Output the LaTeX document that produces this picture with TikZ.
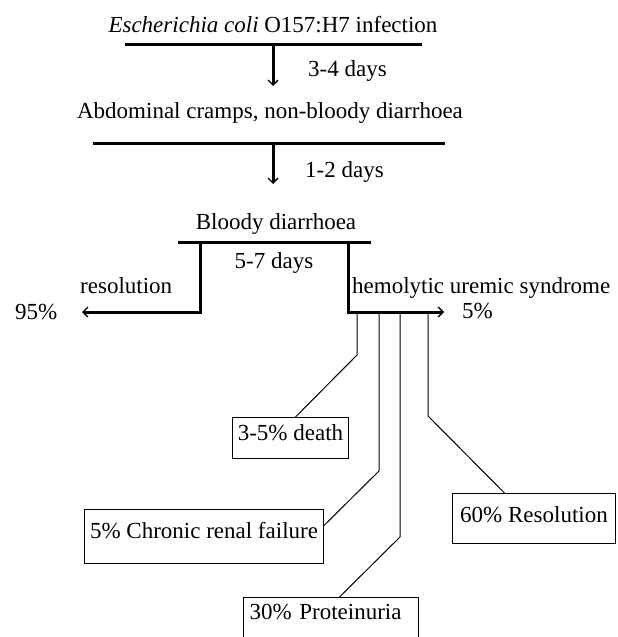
\documentclass[tikz,border=0pt]{standalone}
\usepackage{fontspec}
\setmainfont{Liberation Serif}
\usetikzlibrary{positioning,arrows.meta}

\begin{document}
\begin{tikzpicture}[x=1pt,y=-1pt,>={Straight Barb[length=5pt,width=10pt,line width=1.4pt]},
  font=\fontsize{23}{27}\selectfont,
  bar/.style={line width=3pt},
  twig/.style={line width=1pt},
  lbl/.style={inner sep=0pt,anchor=base west},
  mid/.style={inner sep=0pt,anchor=base},
  box/.style={draw,line width=1pt,inner sep=0pt,anchor=north west}]
\useasboundingbox (0,0) rectangle (618,637);
\clip (0,0) rectangle (618,637);

% texts
\node (ecoli) [mid] at (273,32) {\textit{Escherichia coli} O157:H7 infection};
\node (d1) [lbl] at (308,76) {3-4 days};
\node (cramps) [mid] at (270,118) {Abdominal cramps, non-bloody diarrhoea};
\node (d2) [lbl] at (305,177) {1-2 days};
\node (bloody) [mid] at (276,229) {Bloody diarrhoea};
\node (d3) [mid] at (274,268) {5-7 days};
\node (res) [lbl] at (80,293) {resolution};
\node (hus) [lbl] at (352,293) {hemolytic uremic syndrome};
\node (p95) [lbl] at (15,319) {95\%};
\node (p5) [lbl] at (462,318) {5\%};

% outcome boxes
\node (death) [box, minimum width=116pt, text height=23pt, text depth=18pt] at (232,417) {3-5\% death};
\node (crf) [box, minimum width=239pt, text height=29pt, text depth=25pt] at (84,509) {5\% Chronic renal failure};
\node (prot) [box, text width=163pt, inner xsep=6pt, align=left, text height=22pt, text depth=30pt] at (243,597) {30\% Proteinuria};
\node (rec) [box, minimum width=163pt, text height=29pt, text depth=21pt] at (452,493) {60\% Resolution};

% bars and knees
\coordinate (l1w) at (125,44);  \coordinate (l1e) at (422,44);
\coordinate (l1m) at (273,44);  \coordinate (a1) at (273,86);
\coordinate (l2w) at (93,143);  \coordinate (l2e) at (445,143);
\coordinate (l2m) at (273,143); \coordinate (a2) at (273,184);
\coordinate (l3w) at (178,242); \coordinate (l3e) at (371,242);
\coordinate (kl) at (200,242);  \coordinate (tl) at (82,312);
\coordinate (kr) at (348,242);  \coordinate (tr) at (444,312);
\coordinate (ta) at (357,312);  \coordinate (tb) at (379,312);
\coordinate (tc) at (400,312);  \coordinate (td) at (428,312);

\draw[twig] (ta) -- ++(0,43) -- ([xshift=5pt]death.north);
\draw[twig] (tb) -- ++(0,159) -- ([yshift=11pt]crf.east);
\draw[twig] (tc) -- ++(0,225) -- ([xshift=8.5pt]prot.north);
\draw[twig] (td) -- ++(0,104) -- ([xshift=-29.5pt]rec.north);

\draw[bar] (l1w) -- (l1e);
\draw[->, bar] (l1m) -- (a1);
\draw[bar] (l2w) -- (l2e);
\draw[->, bar] (l2m) -- (a2);
\draw[bar] (l3w) -- (l3e);
\draw[->, bar] (kl) |- (tl);
\draw[->, bar] (kr) |- (tr);
\end{tikzpicture}
\end{document}
